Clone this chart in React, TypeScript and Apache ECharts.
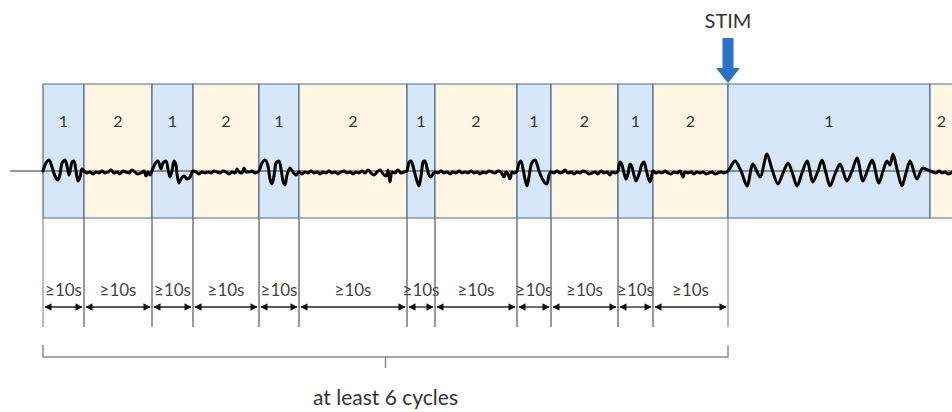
import React, { useEffect, useRef } from "react";
import * as echarts from "echarts";

// Phase boundaries along the time axis (diagram units)
const BOUNDS = [43, 84, 152, 193, 259, 299, 407, 435, 517, 551, 618, 653, 728, 930, 953];
const PHASES = ["1", "2", "1", "2", "1", "2", "1", "2", "1", "2", "1", "2", "1", "2"];
const DURATION_LABELS = ["≥10s", "≥10s", "≥10s", "≥10s", "≥10s", "≥10s", "≥10s", "≥10s", "≥10s", "≥10s", "≥10s", "≥10s"];
const STIM_LABEL = "STIM";
const STIM_INDEX = 12;
const CYCLES_LABEL = "at least 6 cycles";

// Trace: [time, amplitude]
const SIGNAL: [number, number][] = [
  [43, 0], [46, 8], [49, 11], [52, 4], [55, -5], [58, -9], [60, -3], [62, 8], [65, 11], [67, 5], [69, -4], [72, 9], [74, 10], [76, 0], [78, -10], [80, -6], [82, 2], [84, 0],
  [87, -2], [90, -1], [93, -3], [96, -1], [99, -2], [102, 0], [105, -2], [108, -1], [111, 1], [114, -2], [117, -1], [120, -3], [123, 0], [126, -1], [129, -2], [132, 1], [135, -1], [138, -3], [141, -2], [144, 0], [146, -5], [148, -1], [150, -4], [152, 0],
  [155, 7], [158, 10], [161, 2], [163, 8], [166, 10], [168, 2], [170, -6], [172, 0], [174, 10], [176, 6], [177, -3], [179, -12], [181, -8], [184, -5], [187, -8], [190, -6], [193, 0],
  [196, -1], [199, -3], [202, -1], [205, -2], [208, -1], [211, -2], [214, 0], [217, -1], [220, -2], [223, 0], [226, -1], [229, -3], [232, -1], [235, -2], [237, 2], [239, -1], [242, -2], [244, 3], [246, -1], [249, -1], [252, 0], [255, -2], [259, 0],
  [262, 8], [265, 11], [268, 5], [270, -8], [272, -13], [274, -5], [276, 8], [279, 10], [281, 2], [283, -10], [285, -14], [287, -4], [290, 3], [293, -1], [296, -4], [299, -1],
  [302, -3], [305, -1], [308, -2], [311, 0], [314, -2], [317, -1], [320, -3], [323, -1], [326, -2], [329, 0], [332, -2], [335, -1], [338, -3], [341, -1], [344, 0], [347, -2], [350, -1], [353, -3], [356, -1], [359, -2], [362, 0], [365, -2], [368, 1], [371, -2], [374, -4], [377, -1], [380, 1], [383, -3], [386, -5], [388, 1], [390, -11], [392, -1], [395, -2], [398, 1], [401, -2], [404, -1], [407, 0],
  [409, 9], [411, 10], [413, 5], [415, -3], [417, -10], [419, -15], [421, -5], [423, 9], [425, 10], [427, 3], [429, -4], [431, -6], [433, -3], [435, -1],
  [438, -2], [441, 0], [444, -2], [447, -1], [450, -3], [453, -1], [456, -2], [459, 0], [462, -2], [465, -1], [468, -2], [471, 0], [474, -2], [477, -1], [480, -3], [483, -1], [486, -2], [489, 0], [492, -1], [495, -2], [498, 0], [501, -1], [504, -6], [506, -1], [508, -3], [510, -8], [512, -1], [514, -2], [517, 0],
  [519, 8], [521, 10], [523, 2], [525, -8], [527, -15], [529, -6], [531, 6], [533, 10], [535, 11], [537, 7], [539, 0], [541, -5], [543, -9], [545, -12], [547, -13], [549, -4], [551, -1],
  [554, -2], [557, 0], [560, -2], [563, -1], [565, 1], [568, -2], [571, -1], [574, -3], [577, -1], [580, -2], [583, 0], [586, -1], [589, -3], [592, -2], [595, -1], [598, -3], [601, 0], [604, -2], [607, -1], [610, -4], [612, -1], [615, -2], [618, 0],
  [620, 9], [622, 6], [624, -2], [626, -8], [628, -3], [630, 7], [632, 4], [634, -4], [636, -10], [638, -6], [640, 0], [642, 7], [644, 9], [646, 2], [648, -6], [650, -11], [652, -3], [653, 0],
  [656, -2], [659, -1], [662, -2], [665, 0], [668, -2], [671, -3], [674, -1], [677, -2], [680, 0], [683, -6], [685, -1], [688, -2], [691, -1], [694, -3], [697, -1], [700, -2], [703, -1], [706, -3], [709, -2], [712, -1], [715, -3], [718, -2], [721, -1], [724, -2], [728, 0],
  [735, 10], [741, 0], [747, -15], [753, 7], [760, -6], [767, 17], [772, 2], [778, -13], [783, -2], [788, 8], [793, -4], [797, -15], [802, -2], [807, 10], [813, -11], [818, 0], [822, 11], [826, -2], [830, -15], [835, -3], [840, 7], [847, -10], [852, 0], [857, 13], [863, -10], [868, 2], [872, 11], [879, -12], [883, 0], [887, 10], [890, 6], [893, 17], [897, 2], [902, -15], [906, -2], [910, 10], [917, -8], [923, 3], [930, 0],
  [933, -1], [936, -2], [939, 0], [942, -2], [945, -1], [948, -3], [953, -1],
];

const BLUE_FILL = "#d7e7f7";
const BEIGE_FILL = "#fef5e5";
const BOX_STROKE = "#4d6e92";
const FAMILY = "Lato";

export default function App() {
  const ref = useRef<HTMLDivElement>(null);

  useEffect(() => {
    if (!ref.current) return;
    const chart = echarts.init(ref.current, undefined, { renderer: "svg" });

    const segments = PHASES.map((p, i) => [BOUNDS[i], BOUNDS[i + 1], p]);
    const durations = DURATION_LABELS.map((l, i) => [BOUNDS[i], BOUNDS[i + 1], l]);
    const cycles = [[BOUNDS[0], BOUNDS[DURATION_LABELS.length], CYCLES_LABEL]];
    const stim = [[BOUNDS[STIM_INDEX], STIM_LABEL]];

    const BOX_TOP = 84;
    const BOX_BOTTOM = 218;

    chart.setOption({
      animation: false,
      grid: { left: 0, right: 0, top: 0, bottom: 0 },
      xAxis: { type: "value", min: 0, max: 952, show: false },
      yAxis: [
        { type: "value", min: 0, max: 412, inverse: true, show: false },
        { type: "value", min: -241, max: 171, show: false },
      ],
      series: [
        {
          type: "custom",
          z: 1,
          data: segments,
          renderItem: (params: any, api: any) => {
            const s = api.coord([api.value(0), BOX_TOP]);
            const e = api.coord([api.value(1), BOX_BOTTOM]);
            const label = String(segments[params.dataIndex][2]);
            const m = api.coord([(api.value(0) + api.value(1)) / 2, 120]);
            return {
              type: "group",
              children: [
                {
                  type: "rect",
                  shape: { x: s[0], y: s[1], width: e[0] - s[0], height: e[1] - s[1] },
                  style: { fill: label === "1" ? BLUE_FILL : BEIGE_FILL, stroke: BOX_STROKE, lineWidth: 1.2 },
                },
                {
                  type: "text",
                  x: m[0],
                  y: m[1],
                  style: { text: label, fill: "#333", fontSize: 16, fontFamily: FAMILY, align: "center", verticalAlign: "middle" },
                },
              ],
            };
          },
        },
        {
          type: "line",
          yAxisIndex: 1,
          z: 2,
          data: [[10, 0], [953, 0]],
          showSymbol: false,
          lineStyle: { color: "#333", width: 1.2 },
          silent: true,
        },
        {
          type: "line",
          yAxisIndex: 1,
          z: 3,
          data: SIGNAL,
          showSymbol: false,
          smooth: 0.3,
          lineStyle: { color: "#000", width: 3, join: "round", cap: "round" },
          silent: true,
        },
        {
          type: "custom",
          z: 4,
          data: durations,
          renderItem: (params: any, api: any) => {
            const s = api.coord([api.value(0), 307]);
            const e = api.coord([api.value(1), 307]);
            const top = api.coord([api.value(0), BOX_BOTTOM])[1];
            const bot = api.coord([api.value(0), 327])[1];
            const ty = api.coord([api.value(0), 289])[1];
            const y = s[1];
            const label = String(durations[params.dataIndex][2]);
            const ah = 7, aw = 3.8;
            return {
              type: "group",
              children: [
                { type: "line", shape: { x1: s[0], y1: top, x2: s[0], y2: bot }, style: { stroke: "#777", lineWidth: 1 } },
                { type: "line", shape: { x1: e[0], y1: top, x2: e[0], y2: bot }, style: { stroke: "#777", lineWidth: 1 } },
                { type: "line", shape: { x1: s[0] + 2, y1: y, x2: e[0] - 2, y2: y }, style: { stroke: "#222", lineWidth: 1.3 } },
                { type: "polygon", shape: { points: [[s[0] + 1.5, y], [s[0] + 1.5 + ah, y - aw], [s[0] + 1.5 + ah, y + aw]] }, style: { fill: "#111" } },
                { type: "polygon", shape: { points: [[e[0] - 1.5, y], [e[0] - 1.5 - ah, y - aw], [e[0] - 1.5 - ah, y + aw]] }, style: { fill: "#111" } },
                {
                  type: "text",
                  x: (s[0] + e[0]) / 2,
                  y: ty,
                  style: { text: label, fill: "#444", fontSize: 17, fontFamily: FAMILY, align: "center", verticalAlign: "middle" },
                },
              ],
            };
          },
        },
        {
          type: "custom",
          z: 4,
          data: cycles,
          renderItem: (params: any, api: any) => {
            const s = api.coord([api.value(0), 357]);
            const e = api.coord([api.value(1), 357]);
            const up = api.coord([api.value(0), 345])[1];
            const down = api.coord([api.value(0), 368])[1];
            const ty = api.coord([api.value(0), 396])[1];
            const mid = (s[0] + e[0]) / 2;
            return {
              type: "group",
              children: [
                { type: "polyline", shape: { points: [[s[0], up], [s[0], s[1]], [e[0], e[1]], [e[0], up]] }, style: { stroke: "#8a8a8a", lineWidth: 1.5, fill: null } },
                { type: "line", shape: { x1: mid, y1: s[1], x2: mid, y2: down }, style: { stroke: "#8a8a8a", lineWidth: 1.5 } },
                {
                  type: "text",
                  x: mid,
                  y: ty,
                  style: { text: String(cycles[0][2]), fill: "#333", fontSize: 21, fontFamily: FAMILY, align: "center", verticalAlign: "middle" },
                },
              ],
            };
          },
        },
        {
          type: "custom",
          z: 5,
          data: stim,
          renderItem: (params: any, api: any) => {
            const p = api.coord([api.value(0), 83]);
            const x = p[0];
            const tip = p[1];
            const headTop = api.coord([api.value(0), 68])[1];
            const shaftTop = api.coord([api.value(0), 38])[1];
            const ty = api.coord([api.value(0), 20])[1];
            return {
              type: "group",
              children: [
                {
                  type: "polygon",
                  shape: {
                    points: [
                      [x - 5.5, shaftTop], [x + 5.5, shaftTop], [x + 5.5, headTop], [x + 12, headTop],
                      [x, tip], [x - 12, headTop], [x - 5.5, headTop],
                    ],
                  },
                  style: { fill: "#2a72c6" },
                },
                {
                  type: "text",
                  x: x,
                  y: ty,
                  style: { text: String(stim[0][1]), fill: "#333", fontSize: 20, fontFamily: FAMILY, align: "center", verticalAlign: "middle" },
                },
              ],
            };
          },
        },
      ],
    });

    return () => chart.dispose();
  }, []);

  return <div ref={ref} style={{ position: "fixed", left: 0, top: 0, width: 952, height: 412, background: "#fff" }} />;
}
